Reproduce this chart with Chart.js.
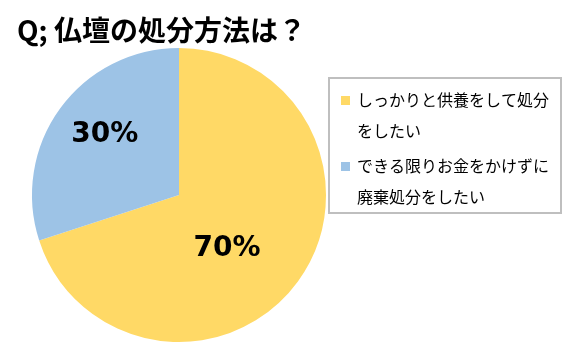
<!DOCTYPE html>
<html>
<head>
<meta charset="utf-8">
<script src="https://cdn.jsdelivr.net/npm/chart.js@4.4.0/dist/chart.umd.min.js"></script>
<style>
  html, body { margin: 0; padding: 0; background: #fff; }
  #wrap { width: 582px; height: 360px; }
</style>
</head>
<body>
<div id="wrap"><canvas id="pie" width="582" height="360"></canvas></div>
<script>
// chart data
var titleText = 'Q; 仏壇の処分方法は？';
var categories = [
  ['しっかりと供養をして処分', 'をしたい'],
  ['できる限りお金をかけずに', '廃棄処分をしたい']
];
var shares = [70, 30];
var colors = ['#FFD966', '#9DC3E6'];

// where the % labels sit: [angle from top in degrees, fraction of radius]
var labelSpots = [[137, 0.48], [310, 0.66]];

var jpFont = '"Noto Sans CJK JP", "Noto Sans", sans-serif';

var extras = {
  id: 'extras',
  afterDraw: function(chart) {
    var ctx = chart.ctx;
    ctx.save();

    // title
    ctx.fillStyle = '#000';
    ctx.font = 'bold 28px ' + jpFont;
    ctx.textAlign = 'left';
    ctx.textBaseline = 'middle';
    ctx.fillText(titleText, 17, 30);

    // percent labels
    var meta = chart.getDatasetMeta(0);
    ctx.font = 'bold 28px "DejaVu Sans", Verdana, sans-serif';
    ctx.textAlign = 'center';
    meta.data.forEach(function(arc, i) {
      var a = labelSpots[i][0] * Math.PI / 180;
      var r = arc.outerRadius * labelSpots[i][1];
      var x = arc.x + Math.sin(a) * r;
      var y = arc.y - Math.cos(a) * r;
      ctx.fillText(shares[i] + '%', x, y + 2);
    });

    // legend box
    ctx.strokeStyle = '#BFBFBF';
    ctx.lineWidth = 2;
    ctx.strokeRect(329, 78, 232, 135);

    ctx.font = '16px ' + jpFont;
    ctx.textAlign = 'left';
    var y = 100;
    categories.forEach(function(lines, i) {
      ctx.fillStyle = colors[i];
      ctx.fillRect(341, y - 4, 9, 9);
      ctx.fillStyle = '#000';
      lines.forEach(function(line, j) {
        ctx.fillText(line, 357, y);
        if (j < lines.length - 1) y += 31;
      });
      y += 35;
    });

    ctx.restore();
  }
};

new Chart(document.getElementById('pie'), {
  type: 'pie',
  data: {
    labels: categories.map(function(c) { return c.join(''); }),
    datasets: [{
      data: shares,
      backgroundColor: colors,
      borderWidth: 0
    }]
  },
  options: {
    responsive: false,
    animation: false,
    layout: { padding: { left: 32, right: 256, top: 48, bottom: 18 } },
    plugins: {
      legend: { display: false },
      title: { display: false },
      tooltip: { enabled: false }
    }
  },
  plugins: [extras]
});
</script>
</body>
</html>
